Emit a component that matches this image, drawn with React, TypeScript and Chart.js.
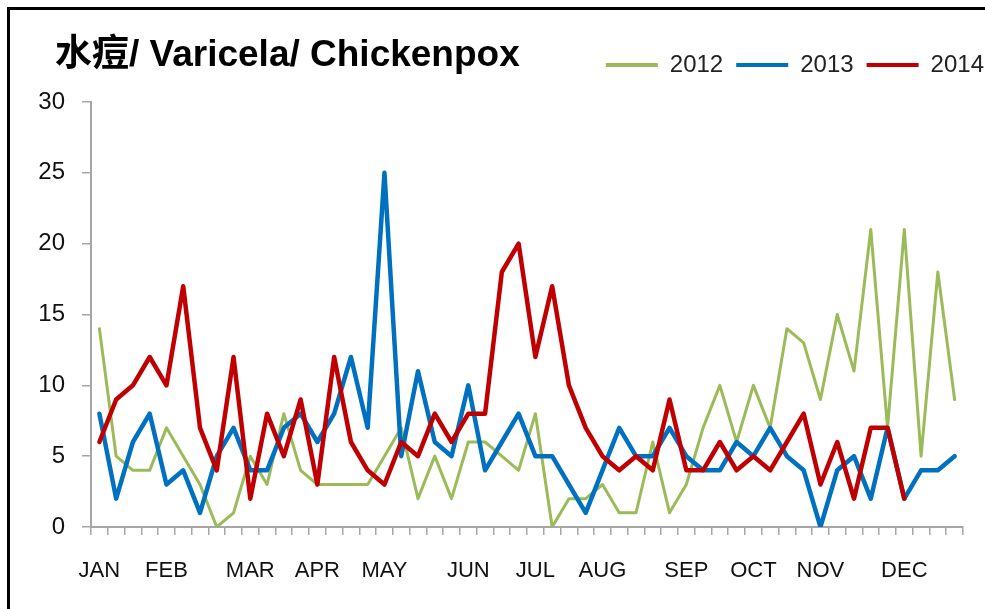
import React, { useEffect, useRef } from "react";
import { Chart, registerables } from "chart.js";

Chart.register(...registerables);

const TITLE = "水痘/ Varicela/ Chickenpox";

const weekLabels: string[] = [
  "JAN", "", "", "",
  "FEB", "", "", "", "",
  "MAR", "", "", "",
  "APR", "", "", "",
  "MAY", "", "", "", "",
  "JUN", "", "", "",
  "JUL", "", "", "",
  "AUG", "", "", "", "",
  "SEP", "", "", "",
  "OCT", "", "", "",
  "NOV", "", "", "", "",
  "DEC", "", "", "",
];

const seriesNames = ["2012", "2013", "2014"];

const cases2012 = [14, 5, 4, 4, 7, 5, 3, 0, 1, 5, 3, 8, 4, 3, 3, 3, 3, 5, 7, 2, 5, 2, 6, 6, 5, 4, 8, 0, 2, 2, 3, 1, 1, 6, 1, 3, 7, 10, 6, 10, 7, 14, 13, 9, 15, 11, 21, 7, 21, 5, 18, 9];
const cases2013 = [8, 2, 6, 8, 3, 4, 1, 5, 7, 4, 4, 7, 8, 6, 8, 12, 7, 25, 5, 11, 6, 5, 10, 4, 6, 8, 5, 5, 3, 1, 4, 7, 5, 5, 7, 5, 4, 4, 6, 5, 7, 5, 4, 0, 4, 5, 2, 7, 2, 4, 4, 5];
const cases2014 = [6, 9, 10, 12, 10, 17, 7, 4, 12, 2, 8, 5, 9, 3, 12, 6, 4, 3, 6, 5, 8, 6, 8, 8, 18, 20, 12, 17, 10, 7, 5, 4, 5, 4, 9, 4, 4, 6, 4, 5, 4, 6, 8, 3, 6, 2, 7, 7, 2];

const yTicks = [0, 5, 10, 15, 20, 25, 30];

const colors = ["#9BBB59", "#0070C0", "#C00000"];
const FONT = "'Liberation Sans', Arial, 'Noto Sans CJK SC', sans-serif";
const AXIS_GREY = "#A6A6A6";

const CANVAS_W = 997;
const CANVAS_H = 609;

const titlePlugin = {
  id: "cornerTitle",
  afterDraw(chart: any) {
    const ctx = chart.ctx;
    ctx.save();
    ctx.font = `bold 37px ${FONT}`;
    ctx.fillStyle = "#000";
    ctx.textBaseline = "alphabetic";
    ctx.textAlign = "left";
    ctx.fillText(TITLE, 55, 66);
    ctx.restore();
  },
};

export default function App() {
  const ref = useRef<HTMLCanvasElement | null>(null);

  useEffect(() => {
    if (!ref.current) return;
    const seriesData = [cases2012, cases2013, cases2014];
    const widths = [3, 4.5, 4.5];
    const chart = new Chart(ref.current, {
      type: "line",
      data: {
        labels: weekLabels,
        datasets: seriesNames.map((name, i) => ({
          label: name,
          data: seriesData[i],
          borderColor: colors[i],
          backgroundColor: colors[i],
          borderWidth: widths[i],
          pointRadius: 0,
          tension: 0,
          fill: false,
          borderJoinStyle: "round" as const,
          borderCapStyle: "round" as const,
          order: 3 - i,
        })),
      },
      options: {
        animation: false,
        responsive: false,
        maintainAspectRatio: false,
        layout: { padding: { top: 40, left: 0, right: 0, bottom: 0 } },
        plugins: {
          tooltip: { enabled: false },
          title: { display: false },
          legend: {
            display: true,
            position: "top",
            align: "end",
            labels: {
              boxWidth: 52,
              boxHeight: 4,
              padding: 13,
              color: "#222",
              font: { family: FONT, size: 24 },
              generateLabels: (c: any) =>
                c.data.datasets.map((ds: any, i: number) => ({
                  text: ds.label,
                  fillStyle: ds.borderColor,
                  strokeStyle: ds.borderColor,
                  lineWidth: 0,
                  hidden: false,
                  datasetIndex: i,
                  fontColor: "#222",
                })),
            },
          },
        },
        scales: {
          x: {
            type: "category",
            offset: true,
            afterFit: (s: any) => {
              s.height = 82;
            },
            grid: {
              offset: true,
              drawOnChartArea: false,
              drawTicks: true,
              tickLength: 8,
              color: AXIS_GREY,
              lineWidth: 1.5,
            },
            border: { color: AXIS_GREY, width: 2 },
            ticks: {
              autoSkip: false,
              maxRotation: 0,
              minRotation: 0,
              padding: 23,
              color: "#111",
              font: { family: FONT, size: 22 },
            },
          },
          y: {
            type: "linear",
            min: 0,
            max: 30,
            afterFit: (s: any) => {
              s.width = 91;
            },
            afterBuildTicks: (s: any) => {
              s.ticks = yTicks.map((v) => ({ value: v }));
            },
            grid: {
              drawOnChartArea: false,
              drawTicks: true,
              tickLength: 9,
              color: AXIS_GREY,
              lineWidth: 1.5,
            },
            border: { color: AXIS_GREY, width: 2 },
            ticks: {
              padding: 17,
              color: "#111",
              font: { family: FONT, size: 24 },
            },
          },
          topSpacer: {
            type: "linear",
            position: "top",
            display: true,
            afterFit: (s: any) => {
              s.height = 15;
            },
            grid: { display: false, drawTicks: false },
            border: { display: false },
            ticks: { display: false },
          },
          rightSpacer: {
            type: "linear",
            position: "right",
            display: true,
            afterFit: (s: any) => {
              s.width = 34;
            },
            grid: { display: false, drawTicks: false },
            border: { display: false },
            ticks: { display: false },
          },
        },
      } as any,
      plugins: [titlePlugin],
    });
    return () => chart.destroy();
  }, []);

  return (
    <div
      style={{
        position: "fixed",
        left: 0,
        top: 0,
        width: 985,
        height: 609,
        overflow: "hidden",
        background: "#fff",
      }}
    >
      <div
        style={{
          position: "absolute",
          left: 7,
          top: 7,
          width: 1200,
          height: 800,
          border: "3px solid #000",
        }}
      />
      <canvas
        ref={ref}
        width={CANVAS_W}
        height={CANVAS_H}
        style={{ position: "absolute", left: 0, top: 0, width: CANVAS_W, height: CANVAS_H }}
      />
    </div>
  );
}
